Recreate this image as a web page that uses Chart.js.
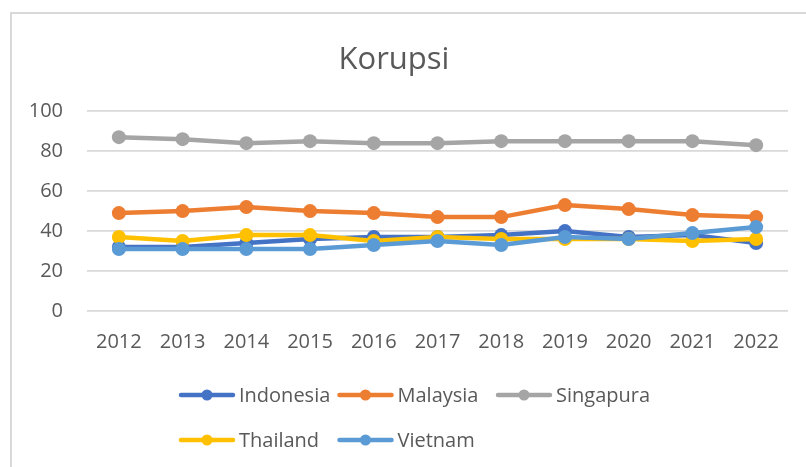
<!DOCTYPE html>
<html>
<head>
<meta charset="utf-8">
<script src="https://cdn.jsdelivr.net/npm/chart.js@4"></script>
<style>
    html, body { margin: 0; padding: 0; background: #fff; overflow: hidden; }
    #wrap { position: relative; width: 806px; height: 467px; }
    #frame {
        position: absolute; left: 10px; top: 12px; width: 820px; height: 480px;
        border-top: 2px solid #d9d9d9; border-left: 2px solid #d9d9d9;
    }
    canvas { position: absolute; left: 0; top: 0; }
</style>
</head>
<body>
<div id="wrap">
    <div id="frame"></div>
    <canvas id="korupsiChart" width="806" height="467"></canvas>
</div>
<script>
    const years = ["2012", "2013", "2014", "2015", "2016", "2017", "2018", "2019", "2020", "2021", "2022"];
    const indonesia = [32, 32, 34, 36, 37, 37, 38, 40, 37, 38, 34];
    const malaysia = [49, 50, 52, 50, 49, 47, 47, 53, 51, 48, 47];
    const singapura = [87, 86, 84, 85, 84, 84, 85, 85, 85, 85, 83];
    const thailand = [37, 35, 38, 38, 35, 37, 36, 36, 36, 35, 36];
    const vietnam = [31, 31, 31, 31, 33, 35, 33, 37, 36, 39, 42];
    const yTicks = [0, 20, 40, 60, 80, 100];

    const textColor = "#595959";
    const fontFamily = "'Open Sans', sans-serif";

    function series(label, data, color, order) {
        return {
            label: label,
            data: data,
            borderColor: color,
            backgroundColor: color,
            borderWidth: 4.5,
            pointRadius: 7,
            pointHoverRadius: 7,
            pointBorderWidth: 0,
            tension: 0,
            order: order,
        };
    }

    // legend drawn by hand so the rows stay left aligned like the original
    const gridLegend = {
        id: "gridLegend",
        afterDraw(chart) {
            const ctx = chart.ctx;
            const startX = 179, colW = 158.5, rowY = [395, 440], cols = 3;
            ctx.save();
            ctx.font = "20px " + fontFamily;
            ctx.textBaseline = "middle";
            ctx.textAlign = "left";
            chart.data.datasets.forEach(function (ds, i) {
                const x = startX + (i % cols) * colW;
                const y = rowY[Math.floor(i / cols)];
                ctx.strokeStyle = ds.borderColor;
                ctx.lineWidth = 4.5;
                ctx.lineCap = "round";
                ctx.beginPath();
                ctx.moveTo(x + 2, y);
                ctx.lineTo(x + 54, y);
                ctx.stroke();
                ctx.fillStyle = ds.borderColor;
                ctx.beginPath();
                ctx.arc(x + 28, y, 5.5, 0, Math.PI * 2);
                ctx.fill();
                ctx.fillStyle = textColor;
                ctx.fillText(ds.label, x + 60, y + 1);
            });
            ctx.restore();
        },
    };

    const ctx = document.getElementById("korupsiChart").getContext("2d");
    new Chart(ctx, {
        type: "line",
        data: {
            labels: years,
            datasets: [
                series("Indonesia", indonesia, "#4472C4", 5),
                series("Malaysia", malaysia, "#ED7D31", 4),
                series("Singapura", singapura, "#A5A5A5", 3),
                series("Thailand", thailand, "#FFC000", 2),
                series("Vietnam", vietnam, "#5B9BD5", 1),
            ],
        },
        options: {
            responsive: false,
            animation: false,
            layout: { padding: { top: 42, right: 18, left: 0, bottom: 0 } },
            plugins: {
                legend: { display: false },
                tooltip: { enabled: false },
                title: {
                    display: true,
                    text: "Korupsi",
                    color: textColor,
                    font: { family: fontFamily, size: 31, weight: "normal", lineHeight: 1.2 },
                    padding: { top: 0, bottom: 32 },
                },
            },
            scales: {
                x: {
                    offset: true,
                    grid: { display: false },
                    border: { display: false },
                    ticks: {
                        color: textColor,
                        font: { family: fontFamily, size: 20 },
                        padding: 11,
                        maxRotation: 0,
                    },
                    afterFit(scale) { scale.height = 156; },
                },
                y: {
                    min: 0,
                    max: 100,
                    grid: { color: "#d9d9d9", lineWidth: 1.75, drawTicks: false },
                    border: { display: false },
                    ticks: {
                        color: textColor,
                        font: { family: fontFamily, size: 20 },
                        padding: 24,
                        stepSize: 20,
                    },
                    afterBuildTicks(scale) {
                        scale.ticks = yTicks.map((v) => ({ value: v }));
                    },
                    afterFit(scale) { scale.width = 87; },
                },
            },
        },
        plugins: [gridLegend],
    });
</script>
</body>
</html>
